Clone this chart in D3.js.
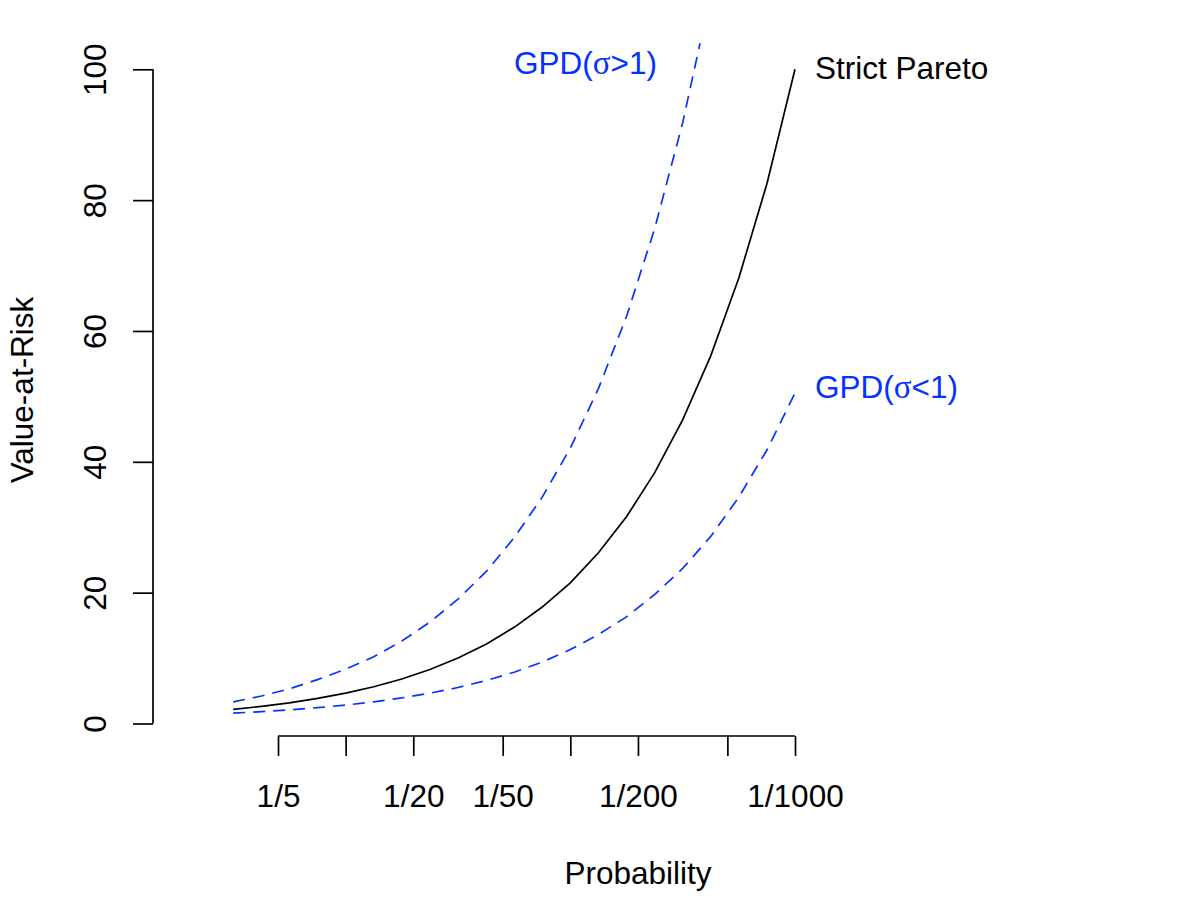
<!DOCTYPE html>
<html>
<head>
<meta charset="utf-8">
<script src="https://cdn.jsdelivr.net/npm/d3@7"></script>
<style>
  html, body { margin: 0; padding: 0; background: #ffffff; }
  svg { display: block; }
  text { font-family: "Liberation Sans", Arial, Helvetica, sans-serif; }
</style>
</head>
<body>
<svg id="chart" width="1198" height="900"></svg>
<script>
// Return periods (1/probability) at which the curves are evaluated
const returnPeriods = [3.16, 4.22, 5.62, 7.50, 10, 13.34, 17.78, 23.71, 31.62, 42.17, 56.23,
                       74.99, 100, 133.4, 177.8, 237.1, 316.2, 421.7, 562.3, 749.9, 1000];
// Value-at-Risk series
const strictPareto = [2.15, 2.61, 3.16, 3.83, 4.64, 5.62, 6.81, 8.25, 10.0, 12.1, 14.7,
                      17.8, 21.5, 26.1, 31.6, 38.3, 46.4, 56.2, 68.1, 82.5, 100];
const gpdHigh = [3.3, 4.2, 5.3, 6.7, 8.3, 10.2, 12.6, 15.5, 19.0, 23.2, 28.4,
                 34.6, 42.1, 51.2, 62.2, 75.6, 91.8, 111.5];
const gpdLow = [1.58, 1.81, 2.08, 2.42, 2.82, 3.31, 3.91, 4.63, 5.5, 6.56, 7.84,
                9.39, 11.3, 13.6, 16.3, 19.7, 23.7, 28.6, 34.6, 41.8, 50.5];
// Axis ticks
const xTickValues = [5, 10, 20, 50, 100, 200, 500, 1000];
const xTickLabels = ["1/5", "", "1/20", "1/50", "", "1/200", "", "1/1000"];
const yTickValues = [0, 20, 40, 60, 80, 100];
// Series labels: [before sigma, sigma, after sigma]
const labelStrict = "Strict Pareto";
const labelHigh = ["GPD(", "\u03c3", ">1)"];
const labelLow = ["GPD(", "\u03c3", "<1)"];

const svg = d3.select("#chart");
const BLUE = "#0433ff";
const FS = 31.5;

const x = d3.scaleLog().domain([5, 1000]).range([278, 795]);
const y = d3.scaleLinear().domain([0, 100]).range([723.5, 69.3]);

// clip to plot region (y from -4 to 104)
svg.append("defs").append("clipPath").attr("id", "plotclip")
  .append("rect")
  .attr("x", 150).attr("width", 680)
  .attr("y", y(104)).attr("height", y(-4) - y(104));

const line = d3.line()
  .x((d, i) => x(returnPeriods[i]))
  .y(d => y(d));

const g = svg.append("g").attr("clip-path", "url(#plotclip)");

g.append("path").datum(strictPareto)
  .attr("d", line).attr("fill", "none")
  .attr("stroke", "#000").attr("stroke-width", 1.7);

g.append("path").datum(gpdHigh)
  .attr("d", line).attr("fill", "none")
  .attr("stroke", BLUE).attr("stroke-width", 1.7)
  .attr("stroke-dasharray", "12,8");

g.append("path").datum(gpdLow)
  .attr("d", line).attr("fill", "none")
  .attr("stroke", BLUE).attr("stroke-width", 1.7)
  .attr("stroke-dasharray", "12,8");

// X axis
const xAxisY = 736;
const xAxis = d3.axisBottom(x)
  .tickValues(xTickValues)
  .tickFormat((d, i) => xTickLabels[i])
  .tickSize(20)
  .tickSizeOuter(0);
const gx = svg.append("g").attr("transform", `translate(0,${xAxisY})`).call(xAxis);
gx.select(".domain").attr("stroke", "#000").attr("stroke-width", 1.7)
  .attr("d", `M${x(5)},0H${x(1000)}`);
gx.selectAll(".tick line").attr("stroke", "#000").attr("stroke-width", 1.7);
gx.selectAll(".tick text").attr("font-size", FS).attr("fill", "#000")
  .attr("font-family", "Liberation Sans, Arial, sans-serif")
  .attr("dy", null).attr("y", 71);

// Y axis
const yAxisX = 153;
const yAxis = d3.axisLeft(y)
  .tickValues(yTickValues)
  .tickSize(20)
  .tickSizeOuter(0);
const gy = svg.append("g").attr("transform", `translate(${yAxisX},0)`).call(yAxis);
gy.select(".domain").attr("stroke", "#000").attr("stroke-width", 1.7)
  .attr("d", `M0,${y(0)}V${y(100)}`);
gy.selectAll(".tick line").attr("stroke", "#000").attr("stroke-width", 1.7);
gy.selectAll(".tick text")
  .attr("font-size", FS).attr("fill", "#000")
  .attr("font-family", "Liberation Sans, Arial, sans-serif")
  .attr("x", null).attr("dy", null)
  .attr("text-anchor", "middle")
  .attr("transform", `translate(${106 - yAxisX},0) rotate(-90)`);

// Axis titles
svg.append("text")
  .attr("x", 638).attr("y", 884)
  .attr("text-anchor", "middle")
  .attr("font-size", FS)
  .text("Probability");

svg.append("text")
  .attr("transform", `translate(33,390) rotate(-90)`)
  .attr("text-anchor", "middle")
  .attr("font-size", FS)
  .text("Value-at-Risk");

// Curve labels
svg.append("text")
  .attr("x", 815).attr("y", y(100) + 10)
  .attr("font-size", FS).attr("fill", "#000")
  .text(labelStrict);

function sigmaLabel(parts, xPos, yPos, anchor) {
  const t = svg.append("text")
    .attr("x", xPos).attr("y", yPos)
    .attr("text-anchor", anchor)
    .attr("font-size", FS).attr("fill", BLUE);
  t.append("tspan").text(parts[0]);
  t.append("tspan").attr("font-family", "Liberation Serif, Times New Roman, serif")
    .attr("font-size", FS * 1.05).text(parts[1]);
  t.append("tspan").text(parts[2]);
  return t;
}
sigmaLabel(labelHigh, 657, 74, "end");
sigmaLabel(labelLow, 815, y(gpdLow[gpdLow.length - 1]) + 5, "start");
</script>
</body>
</html>
